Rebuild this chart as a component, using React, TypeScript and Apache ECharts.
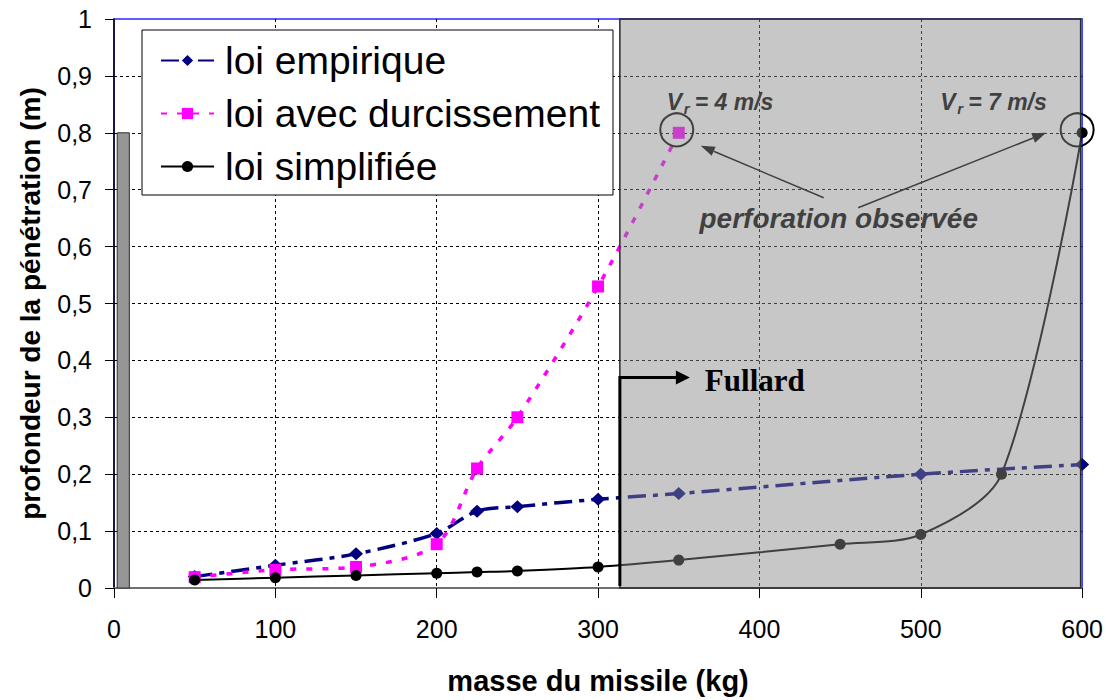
import React, { useEffect, useRef } from 'react';
import * as echarts from 'echarts';

const FONT = '"Liberation Sans", Arial, sans-serif';
const SERIF = '"Liberation Serif", "Times New Roman", serif';

const nameEmpirique = 'loi empirique';
const nameDurcissement = 'loi avec durcissement';
const nameSimplifiee = 'loi simplifiée';

const massEmpirique = [50, 100, 150, 200, 225, 250, 300, 350, 500, 600];
const depthEmpirique = [0.02, 0.04, 0.06, 0.096, 0.135, 0.143, 0.156, 0.166, 0.2, 0.217];

const massDurcissement = [50, 100, 150, 200, 225, 250, 300, 350];
const depthDurcissement = [0.019, 0.032, 0.037, 0.077, 0.21, 0.3, 0.53, 0.8];

const massSimplifiee = [50, 100, 150, 200, 225, 250, 300, 350, 450, 500, 550, 600];
const depthSimplifiee = [0.014, 0.018, 0.022, 0.026, 0.028, 0.03, 0.037, 0.049, 0.077, 0.094, 0.2, 0.8];

// shaded zone (Fullard domain) and left bar
const zoneFullard = [313.5, 600];
const leftBar = [2, 9.5, 0.8];
const fullardHeight = 0.37;
const perforationPoints = [
  [350, 0.8],
  [600, 0.8],
];
const vrLabels = ['= 4 m/s', '= 7 m/s'];

const xTitle = 'masse du missile (kg)';
const yTitle = 'profondeur de la pénétration (m)';

const toPairs = (xs: number[], ys: number[]) => xs.map((x, i) => [x, ys[i]]);

function arrow(x1: number, y1: number, x2: number, y2: number, w: number, hl: number, hw: number, color: string, z: number) {
  const ang = Math.atan2(y2 - y1, x2 - x1);
  const c = Math.cos(ang);
  const s = Math.sin(ang);
  const bx = x2 - hl * c;
  const by = y2 - hl * s;
  const px = -s;
  const py = c;
  return [
    { type: 'line', z, shape: { x1, y1, x2: bx, y2: by }, style: { stroke: color, lineWidth: w } },
    {
      type: 'polygon',
      z,
      shape: {
        points: [
          [x2, y2],
          [bx + (px * hw) / 2, by + (py * hw) / 2],
          [bx - (px * hw) / 2, by - (py * hw) / 2],
        ],
      },
      style: { fill: color },
    },
  ];
}

export default function App() {
  const ref = useRef<HTMLDivElement>(null);
  useEffect(() => {
    const chart = echarts.init(ref.current!, null, { renderer: 'svg' });
    chart.setOption({
      animation: false,
      backgroundColor: '#ffffff',
      grid: {
        left: 114,
        right: 22,
        top: 19,
        bottom: 110,
        show: true,
        borderColor: '#2a2aff',
        borderWidth: 1.5,
        backgroundColor: 'transparent',
      },
      legend: {
        data: [nameEmpirique, nameDurcissement, nameSimplifiee],
        orient: 'vertical',
        left: 142,
        top: 30,
        itemWidth: 53,
        itemHeight: 14,
        itemGap: 14,
        padding: [11, 13, 9, 18],
        backgroundColor: '#ffffff',
        borderColor: '#000000',
        borderWidth: 1,
        borderRadius: 0,
        textStyle: { fontFamily: FONT, fontSize: 39, color: '#000', padding: [0, 0, 0, 6] },
        z: 20,
      },
      xAxis: {
        type: 'value',
        min: 0,
        max: 600,
        interval: 100,
        name: xTitle,
        nameLocation: 'middle',
        nameGap: 78,
        nameTextStyle: { fontFamily: FONT, fontSize: 29, fontWeight: 'bold', color: '#000' },
        axisLine: { show: true, onZero: false, lineStyle: { color: '#707070', width: 2 } },
        axisTick: { show: true, inside: false, length: 10, lineStyle: { color: '#000', width: 1 } },
        axisLabel: { fontFamily: FONT, fontSize: 25, color: '#000', margin: 28 },
        splitLine: { show: true, showMinLine: false, showMaxLine: false, lineStyle: { color: '#000', type: [3, 3], width: 1 } },
      },
      yAxis: {
        type: 'value',
        min: 0,
        max: 1,
        interval: 0.1,
        name: yTitle,
        nameLocation: 'middle',
        nameGap: 70,
        nameTextStyle: { fontFamily: FONT, fontSize: 28, fontWeight: 'bold', color: '#000' },
        axisLine: { show: true, lineStyle: { color: '#000', width: 1.5 } },
        axisTick: { show: true, inside: false, length: 9, lineStyle: { color: '#000', width: 1 } },
        axisLabel: {
          fontFamily: FONT,
          fontSize: 25,
          color: '#000',
          margin: 22,
          formatter: (v: number) => (v === 0 || v === 1 ? String(v) : v.toFixed(1).replace('.', ',')),
        },
        splitLine: { show: true, showMinLine: false, showMaxLine: false, lineStyle: { color: '#000', type: [3, 3], width: 1 } },
      },
      series: [
        {
          name: nameEmpirique,
          type: 'line',
          data: toPairs(massEmpirique, depthEmpirique),
          smooth: 0.3,
          symbol: 'diamond',
          symbolSize: [14, 13],
          color: '#000080',
          itemStyle: { color: '#000080' },
          lineStyle: { color: '#000080', width: 3.5, type: [18, 7, 5, 7] },
          z: 3,
        },
        {
          name: nameDurcissement,
          type: 'line',
          data: toPairs(massDurcissement, depthDurcissement),
          smooth: 0.3,
          symbol: 'rect',
          symbolSize: 12,
          color: '#ff00ff',
          itemStyle: { color: '#ff00ff' },
          lineStyle: { color: '#ff00ff', width: 3.5, type: [6, 10] },
          z: 4,
        },
        {
          name: nameSimplifiee,
          type: 'line',
          data: toPairs(massSimplifiee, depthSimplifiee),
          smooth: 0.3,
          symbol: 'circle',
          symbolSize: 11,
          color: '#000000',
          itemStyle: { color: '#000000' },
          lineStyle: { color: '#000000', width: 2 },
          z: 5,
        },
      ],
    });

    const toPx = (v: number[]) => chart.convertToPixel({ gridIndex: 0 }, v) as number[];

    const zTopLeft = toPx([zoneFullard[0], 1]);
    const zBottomRight = toPx([zoneFullard[1], 0]);
    const bTopLeft = toPx([leftBar[0], leftBar[2]]);
    const bBottomRight = toPx([leftBar[1], 0]);
    const fBase = toPx([zoneFullard[0], 0]);
    const fTop = toPx([zoneFullard[0], fullardHeight]);
    const p1 = toPx(perforationPoints[0]);
    const p2 = toPx(perforationPoints[1]);

    const annZ = 50;
    const vrText = (p: number[], dx: number, label: string) => {
      const x0 = p[0] + dx;
      const yc = p[1] - 31;
      const st = { fontFamily: FONT, fontWeight: 'bold', fontStyle: 'italic', fill: '#000' };
      return [
        { type: 'text', z: annZ, x: x0, y: yc, style: { ...st, text: 'V', fontSize: 23, verticalAlign: 'middle', align: 'left' } },
        { type: 'text', z: annZ, x: x0 + 17, y: yc + 7, style: { ...st, text: 'r', fontSize: 15, verticalAlign: 'middle', align: 'left' } },
        { type: 'text', z: annZ, x: x0 + 28, y: yc, style: { ...st, text: label, fontSize: 23, verticalAlign: 'middle', align: 'left' } },
      ];
    };

    const graphic: any[] = [
      // left grey bar
      {
        type: 'rect',
        z: 3,
        shape: { x: bTopLeft[0], y: bTopLeft[1], width: bBottomRight[0] - bTopLeft[0], height: bBottomRight[1] - bTopLeft[1] },
        style: { fill: '#969696', stroke: '#303030', lineWidth: 1 },
      },
      // annotations (under the translucent zone)
      { type: 'circle', z: annZ, shape: { cx: p1[0] - 2, cy: p1[1] - 3, r: 16.5 }, style: { fill: 'none', stroke: '#000', lineWidth: 2 } },
      { type: 'circle', z: annZ, shape: { cx: p2[0] - 5, cy: p2[1] - 3, r: 16.5 }, style: { fill: 'none', stroke: '#000', lineWidth: 2 } },
      ...vrText(p1, -12, vrLabels[0]),
      ...vrText(p2, -142, vrLabels[1]),
      {
        type: 'text',
        z: annZ,
        x: p1[0] + 160,
        y: p1[1] + 86,
        style: {
          text: 'perforation observée',
          fontFamily: FONT,
          fontWeight: 'bold',
          fontStyle: 'italic',
          fontSize: 28,
          fill: '#000',
          align: 'center',
          verticalAlign: 'middle',
        },
      },
      ...arrow(p1[0] + 145, p1[1] + 65, p1[0] + 22, p1[1] + 13, 1.5, 14, 10, '#000', annZ),
      ...arrow(p2[0] - 224, p2[1] + 75, p2[0] - 36, p2[1], 1.5, 14, 10, '#000', annZ),
      // translucent shaded zone
      {
        type: 'rect',
        z: 100,
        shape: { x: zTopLeft[0], y: zTopLeft[1], width: zBottomRight[0] - zTopLeft[0] - 1.5, height: zBottomRight[1] - zTopLeft[1] },
        style: { fill: 'rgba(137,137,137,0.47)', stroke: '#2a2a2a', lineWidth: 1.5 },
      },
      // Fullard marker
      {
        type: 'polyline',
        z: 150,
        shape: { points: [[fBase[0], fBase[1] - 2], [fTop[0], fTop[1]], [fTop[0] + 57, fTop[1]]] },
        style: { stroke: '#000', lineWidth: 3, fill: 'none' },
      },
      ...arrow(fTop[0] + 50, fTop[1], fTop[0] + 70, fTop[1], 3, 14, 14, '#000', 150),
      {
        type: 'text',
        z: 150,
        x: fTop[0] + 85,
        y: fTop[1] + 3,
        style: { text: 'Fullard', fontFamily: SERIF, fontWeight: 'bold', fontSize: 31, fill: '#000', align: 'left', verticalAlign: 'middle' },
      },
    ];

    chart.setOption({ graphic });

    return () => chart.dispose();
  }, []);

  return <div ref={ref} style={{ position: 'fixed', left: 0, top: 0, width: 1106, height: 700 }} />;
}
